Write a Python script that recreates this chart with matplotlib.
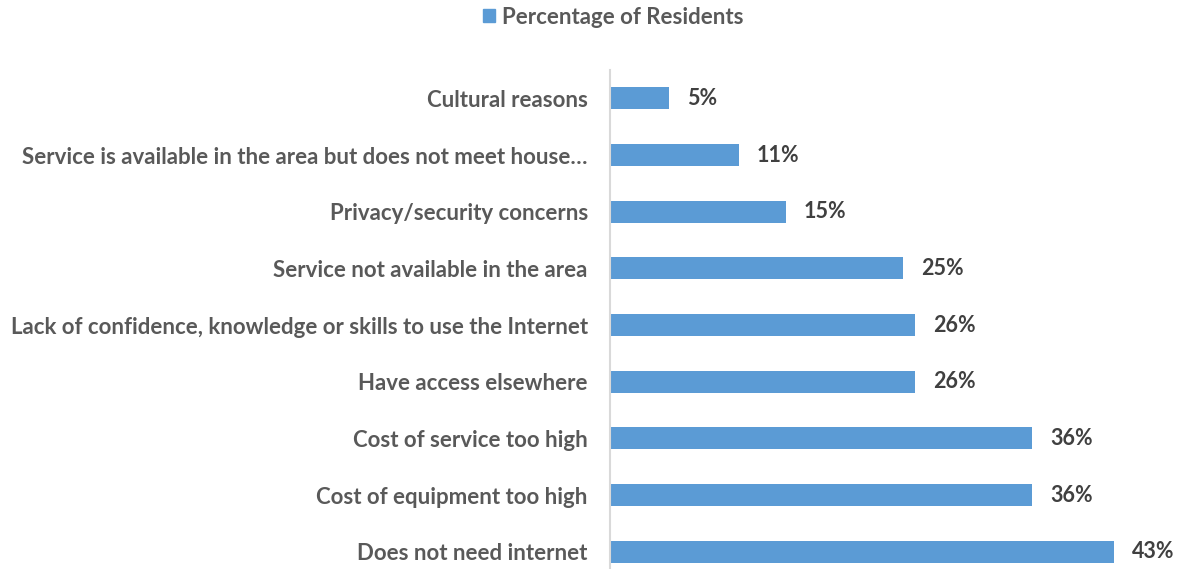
import matplotlib
matplotlib.use("Agg")
import matplotlib.pyplot as plt
from matplotlib.patches import Patch

categories = [
    "Does not need internet",
    "Cost of equipment too high",
    "Cost of service too high",
    "Have access elsewhere",
    "Lack of confidence, knowledge or skills to use the Internet",
    "Service not available in the area",
    "Privacy/security concerns",
    "Service is available in the area but does not meet house\u2026",
    "Cultural reasons",
]
values = [43, 36, 36, 26, 26, 25, 15, 11, 5]
series_name = "Percentage of Residents"

bar_color = "#5B9BD5"
label_color = "#595959"
value_color = "#404040"
font = ["Lato", "DejaVu Sans"]

W, H = 1179, 569
fig = plt.figure(figsize=(W / 100, H / 100), dpi=100)
x0, x1 = 610, 610 + 11.72 * 48
y_top, y_bot = 70, 580
ax = fig.add_axes([x0 / W, (H - y_bot) / H, (x1 - x0) / W, (y_bot - y_top) / H])
ax.set_xlim(0, 48)
ax.set_ylim(-0.5, len(categories) - 0.5)

ypos = list(range(len(categories)))
ax.barh(ypos, values, height=0.39, color=bar_color, zorder=2)

for y, v in zip(ypos, values):
    ax.annotate(f"{v}%", xy=(v, y), xytext=(13, 0), textcoords="offset points",
                va="center", ha="left", fontsize=15.5, fontweight="bold",
                color=value_color, family=font)

ax.set_yticks(ypos)
ax.set_yticklabels(categories, fontsize=16, fontweight="bold", color=label_color, family=font)
ax.tick_params(axis="y", length=0, pad=16)
ax.set_xticks([])
for s in ["top", "right", "bottom"]:
    ax.spines[s].set_visible(False)
ax.spines["left"].set_color("#D9D9D9")
ax.spines["left"].set_linewidth(1.5)

leg = fig.legend(handles=[Patch(color=bar_color, label=series_name)],
                 loc="center", bbox_to_anchor=(613 / W, 1 - 17 / H), frameon=False,
                 handlelength=0.55, handleheight=0.55, handletextpad=0.32,
                 prop={"family": font, "weight": "bold", "size": 16})
for t in leg.get_texts():
    t.set_color(label_color)

fig.savefig("out.png", dpi=100)
